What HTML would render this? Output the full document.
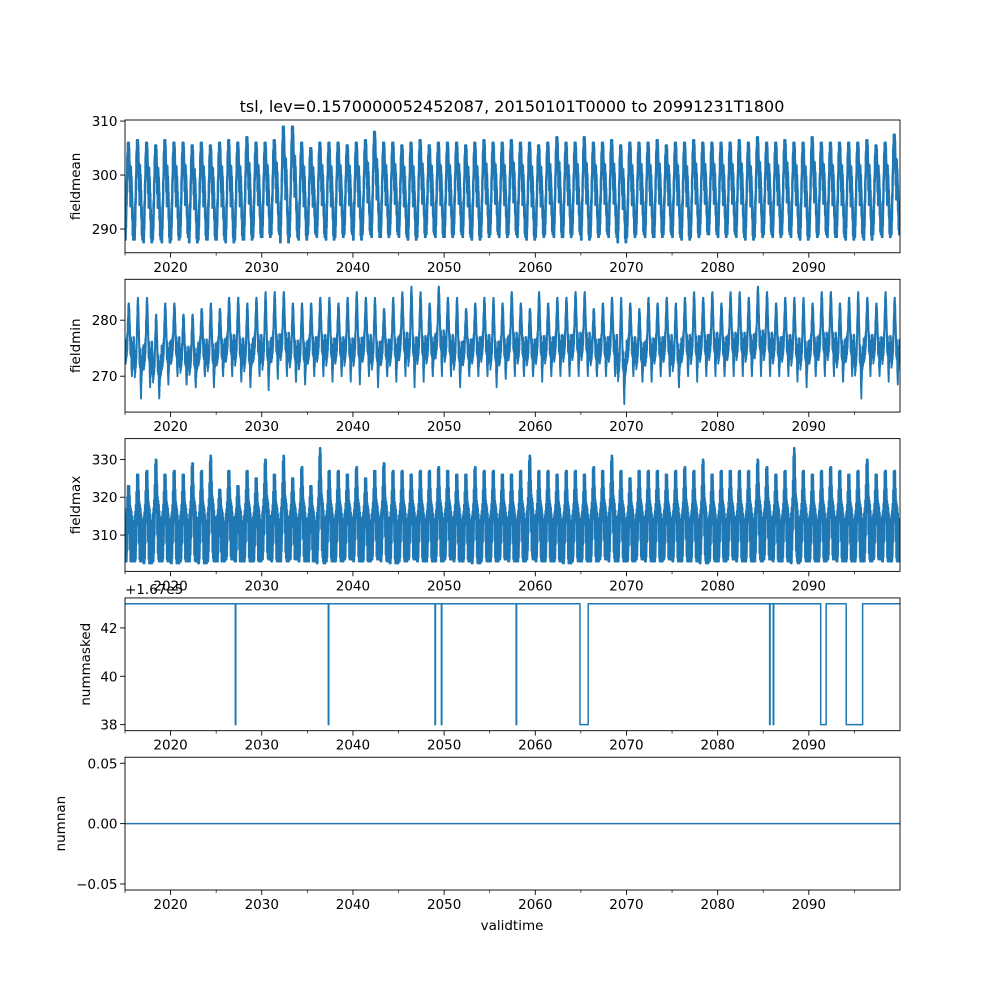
<!DOCTYPE html>
<html><head><meta charset="utf-8">
<style>
html,body{margin:0;padding:0;background:#fff;}
svg{display:block;font-family:"DejaVu Sans","Liberation Sans",sans-serif;}
</style></head>
<body>
<svg id="fig" width="1000" height="1000" viewBox="0 0 1000 1000" xmlns="http://www.w3.org/2000/svg">
<rect width="1000" height="1000" fill="#fff"/>
<text x="512" y="112" font-size="16" text-anchor="middle" fill="#000">tsl, lev=0.1570000052452087, 20150101T0000 to 20991231T1800</text>
</svg>
<script>
// ---- data ----
const years = [];
for (let y = 2015; y < 2100; y++) years.push(y);
const xTicks = [2020,2030,2040,2050,2060,2070,2080,2090];
const xMinorTicks = [2015,2025,2035,2045,2055,2065,2075,2085,2095];
const seasonShapeMean = [0.02,0.12,0.4,0.75,0.98,1.0,0.7,0.5,0.58,0.45,0.2,0.05];
const seasonShapeMin = [0.4,0.3,0.38,0.45,0.75,1.0,0.75,0.42,0.4,0.05,0.3,0.4];
const seasonShapeMax = [0.15,0.2,0.3,0.5,0.8,1.0,0.6,0.35,0.3,0.25,0.15,0.1];
const meanMax = [306,306.5,306,305.5,306.5,306,306,305.5,306,305.5,306,306.5,306,307,306,306,306.5,309,309,306,305,306,306,306,305.5,306,306.5,308,306,306,305.5,306,306.5,305.5,306,306,306,305.5,306,306.5,306,306,306.5,306,306,305.5,306,307,306,306,307,306,306,306.5,305.5,306,306,306,306.5,305.5,306,306,306.5,306,306,306,306,306.5,306,307,306,306,306.5,306,306,307,306,306,306,306,306,306.5,305.5,306,307.5];
const meanMin = [288,288,287.5,288,287.5,288,288.5,287.5,288,288,288,287.5,288,288,288.5,288.5,289,287.5,288.5,288,289,288.5,288,288.5,289,288,289,288.5,288.5,289,288.5,288,288.5,289,288.5,288.5,289,288.5,288,288.5,289,288.5,289,288.5,288,288.5,289,288.5,288.5,289,288,288.5,289,288.5,287.5,288.5,289,288.5,288.5,289,288.5,288,288.5,289,289,288.5,289,288.5,288,288.5,289,288.5,289,288.5,288,288.5,289,288.5,288.5,288,288.5,288,289,288.5,289];
const minMax = [283,284,284,281,283,283,281,281,282,283,282,284,284,283,284,285,285,285,283,283,283,284,284,283,284,285,284,284,282,284,285,286,285,283,286,284,284,282,283,284,284,283,285,283,282,285,283,284,284,285,285,282,283,284,284,283,282,284,283,284,283,284,285,284,285,283,285,285,284,286,285,283,284,284,284,283,285,285,283,284,285,284,283,285,284];
const minMin = [270,266,268,266,268.5,270,268.5,268,270,268,270,270,269,268,270,267.5,269.5,270,269,268.5,270,270,269,270,269,268.5,270,268,270,269,270,268,269,270,270,270,268,270,270,270,268,269.5,270,270,270,269,270,270,270,270,270,270,270,270,265,270,269,269,270,270,268,270,269,270,270,270,270,270,270,270,270,270,270,269,268,270,270,270,269,270,266,270,270,269,268.5];
const maxMax = [323,326,327,330,326,327,326,329,327,331,322,327,323,327,325,330,326,331,325,328,323,333,327,327,326,328,325,327,329,327,327,326,327,327,328,327,326,326,328,327,327,326,326,327,331,327,327,326,327,327,326,328,327,331,327,325,327,327,327,326,327,328,327,330,326,327,327,327,327,330,328,326,327,333,327,326,327,328,327,326,327,330,326,327,327];
const maxMin = [303,303,302.5,303,303,302.5,303,303,302.5,303,303,303.5,303,303,303,303.5,303,303,303.5,303,303,302.5,303,303,303.5,303,303,303.5,303,302.5,303,303.5,303,303,303,303.5,303,303,302.5,303,303,303.5,303,303,303.5,303,303,303,302.5,303,303,303,303.5,303,303,303,303.5,303,303,303.5,303,303,303,302.5,303,303,303.5,303,303,303,303.5,303,303,302.5,303,303,303,303.5,303,303,303,303,303.5,303,303];
const maskedBase = 43;
const maskedLow = 38;
const dropStart = [2027.1,2037.3,2049.0,2049.7,2057.9,2064.9,2085.7,2086.1,2091.3,2094.1];
const dropEnd   = [2027.15,2037.35,2049.05,2049.75,2057.95,2065.8,2085.75,2086.15,2091.9,2095.9];
const nanValue = 0;

// ---- layout ----
const SVGNS = "http://www.w3.org/2000/svg";
const fig = document.getElementById('fig');
const L = 125, R = 900, H = 132.76, GAP = 26.55, TOP = 120;
const X0 = 2015, X1 = 2100;
const xs = t => L + (t - X0) / (X1 - X0) * (R - L);
const C = '#1f77b4';
function el(tag, attrs, parent) {
  const e = document.createElementNS(SVGNS, tag);
  for (const k in attrs) e.setAttribute(k, attrs[k]);
  (parent || fig).appendChild(e);
  return e;
}
const panels = [
  {name:'fieldmean', lo:285.6, hi:310.2, ticks:[290,300,310], lab:v=>String(v), ylx:80},
  {name:'fieldmin', lo:263.6, hi:287.3, ticks:[270,280], lab:v=>String(v), ylx:80},
  {name:'fieldmax', lo:300.4, hi:335.5, ticks:[310,320,330], lab:v=>String(v), ylx:80},
  {name:'nummasked', lo:37.75, hi:43.24, ticks:[38,40,42], lab:v=>String(v), ylx:90},
  {name:'numnan', lo:-0.055, hi:0.055, ticks:[-0.05,0,0.05], lab:v=>v===0?'0.00':(v<0?'\u22120.05':'0.05'), ylx:65}
];
panels.forEach((p, i) => {
  p.top = TOP + i * (H + GAP);
  p.bot = p.top + H;
  p.ys = v => p.bot - (v - p.lo) / (p.hi - p.lo) * H;
});

function seasonal(shape, t) {
  const m = t * 12;
  const a = Math.floor(m) % 12, b = (a + 1) % 12, f = m - Math.floor(m);
  return shape[a] * (1 - f) + shape[b] * f;
}
function buildBand(p, maxArr, minArr, shape, noise) {
  const pts = [];
  const N = 160;
  for (let i = 0; i < years.length; i++) {
    const lo = minArr[i], hi = maxArr[i];
    for (let k = 0; k < N; k++) {
      const f = k / N;
      const s = seasonal(shape, f);
      let v = lo + (hi - lo) * s;
      const amp = noise * (0.4 + 0.6 * ((k * 7) % 5) / 4);
      v += (k % 2 ? 1 : -1) * amp;
      if (s >= 0.999) v = hi;
      v = Math.max(lo, Math.min(hi, v));
      pts.push(xs(years[i] + f).toFixed(2) + ',' + p.ys(v).toFixed(2));
    }
  }
  return pts.join(' ');
}

panels.forEach((p, i) => {
  const g = el('g', {});
  
  
  const cid = 'clip' + i;
  const cp = el('clipPath', {id: cid}, g);
  el('rect', {x: L, y: p.top, width: R - L, height: H}, cp);
  const dg = el('g', {'clip-path': 'url(#' + cid + ')'}, g);
  let line, sw = '1.5';
  if (i === 0) { line = el('polyline', {points: buildBand(p, meanMax, meanMin, seasonShapeMean, 3.2)}, dg); sw = '2'; }
  else if (i === 1) { line = el('polyline', {points: buildBand(p, minMax, minMin, seasonShapeMin, 1.8)}, dg); sw = '1.8'; }
  else if (i === 2) { line = el('polyline', {points: buildBand(p, maxMax, maxMin, seasonShapeMax, 8)}, dg); sw = '1.8'; }
  else if (i === 3) {
    let d = 'M' + xs(X0) + ',' + p.ys(maskedBase);
    for (let j = 0; j < dropStart.length; j++) {
      d += ' L' + xs(dropStart[j]).toFixed(2) + ',' + p.ys(maskedBase) + ' L' + xs(dropStart[j]).toFixed(2) + ',' + p.ys(maskedLow) +
           ' L' + xs(dropEnd[j]).toFixed(2) + ',' + p.ys(maskedLow) + ' L' + xs(dropEnd[j]).toFixed(2) + ',' + p.ys(maskedBase);
    }
    d += ' L' + xs(X1) + ',' + p.ys(maskedBase);
    line = el('path', {d: d}, dg);
  } else {
    line = el('line', {x1: xs(X0), x2: xs(X1), y1: p.ys(nanValue), y2: p.ys(nanValue)}, dg);
  }
  line.setAttribute('fill', 'none');
  line.setAttribute('stroke', C);
  line.setAttribute('stroke-width', sw);
  line.setAttribute('stroke-linejoin', 'round');
  
  

  const frame = el('rect', {x: L, y: p.top, width: R - L, height: H, fill: 'none', stroke: '#000', 'stroke-width': 0.9}, g);
  
  

  xTicks.forEach(t => {
    const x = xs(t);
    el('line', {x1: x, x2: x, y1: p.bot, y2: p.bot + 4.9, stroke: '#000', 'stroke-width': 0.9}, g);
    const tx = el('text', {x: x, y: p.bot + 19, 'font-size': 13.5, 'text-anchor': 'middle', fill: '#000'}, g);
    tx.textContent = String(t);
    
    
  });
  xMinorTicks.forEach(t => {
    const x = xs(t);
    el('line', {x1: x, x2: x, y1: p.bot, y2: p.bot + 2.8, stroke: '#000', 'stroke-width': 0.7}, g);
  });
  p.ticks.forEach(v => {
    const y = p.ys(v);
    el('line', {x1: L - 4.9, x2: L, y1: y, y2: y, stroke: '#000', 'stroke-width': 0.9}, g);
    const ty = el('text', {x: L - 7.5, y: y + 5, 'font-size': 13.5, 'text-anchor': 'end', fill: '#000'}, g);
    ty.textContent = p.lab(v);
    
    
  });
  const yl = el('text', {x: 0, y: 0, 'font-size': 13.5, 'text-anchor': 'middle', fill: '#000',
    transform: 'translate(' + p.ylx + ',' + (p.top + H / 2) + ') rotate(-90)'}, g);
  yl.textContent = p.name;
  
  
});

const off = el('text', {x: 125, y: 594, 'font-size': 13.5, fill: '#000'});
off.textContent = '+1.67e5';



const xl = el('text', {x: 512, y: 930, 'font-size': 13.5, 'text-anchor': 'middle', fill: '#000'});
xl.textContent = 'validtime';


</script>
</body></html>
